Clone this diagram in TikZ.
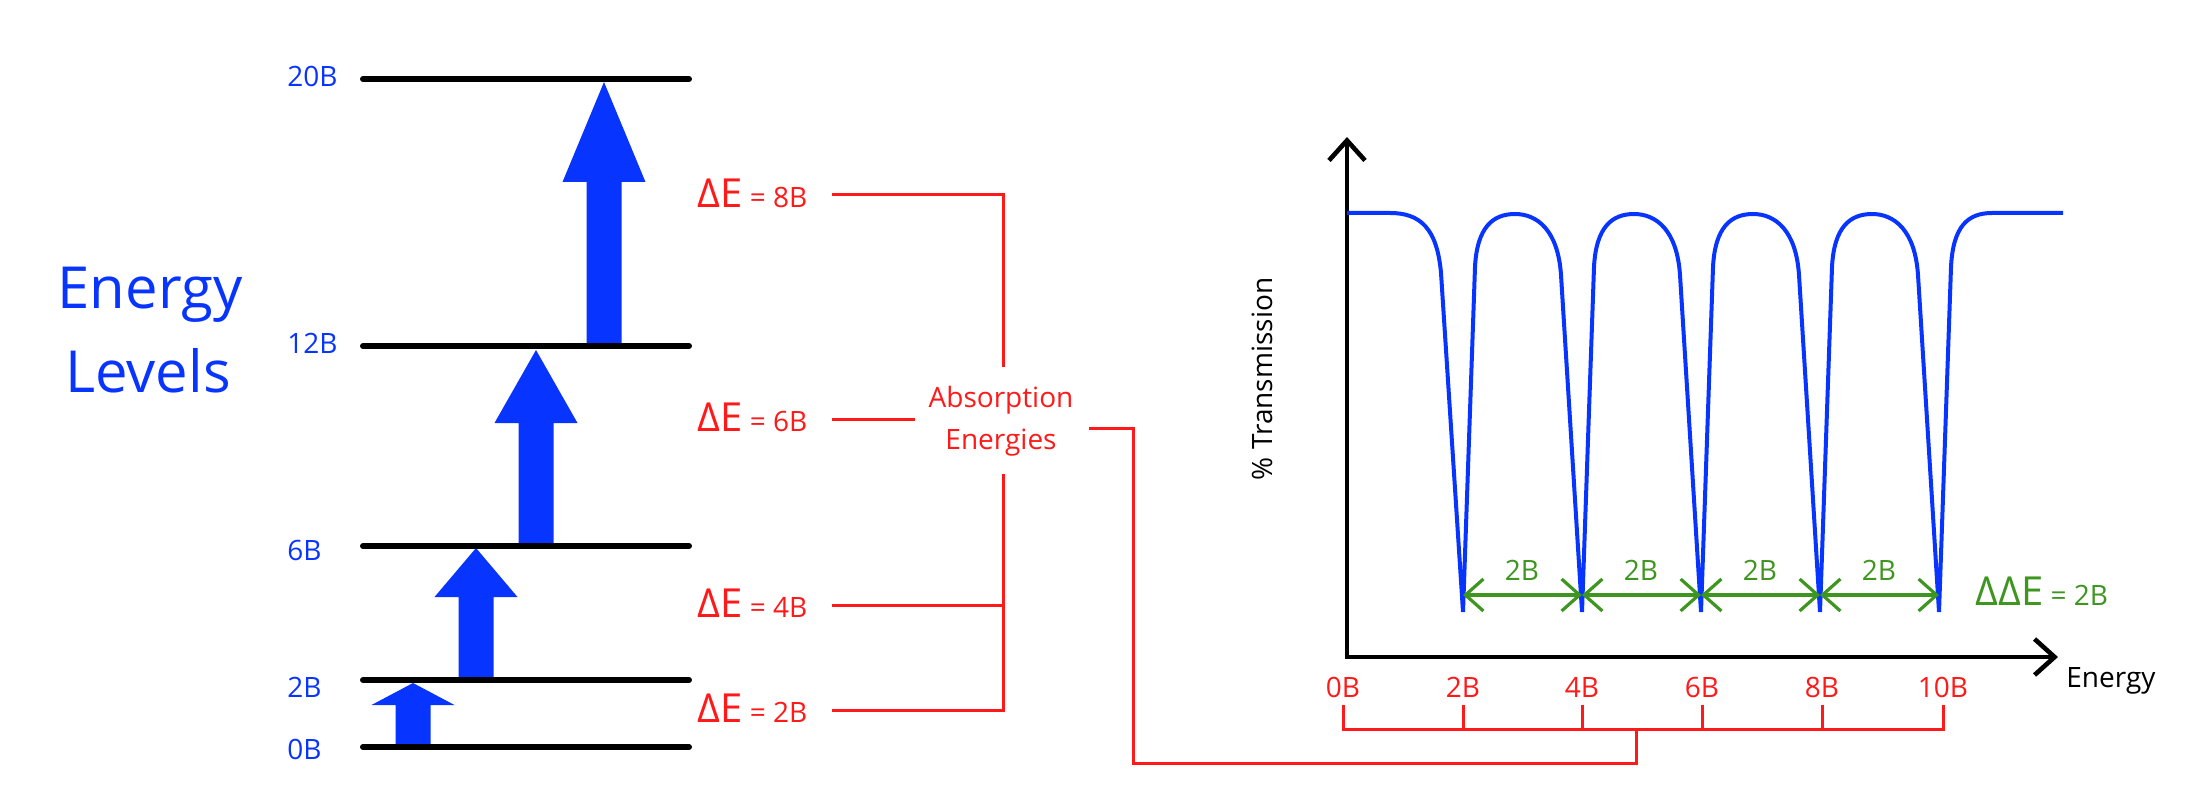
\documentclass[tikz,border=0pt]{standalone}
\usepackage{fontspec}
\setmainfont{Open Sans}
\usetikzlibrary{arrows.meta}
\definecolor{eblue}{RGB}{8,52,255}
\definecolor{ered}{RGB}{255,25,25}
\definecolor{egreen}{RGB}{62,150,32}
\newcommand\BigTxt[1]{{\fontsize{20}{24}\selectfont #1}}
\begin{document}
\begin{tikzpicture}[x=0.5pt,y=-0.5pt,
  lvl/.style={line width=3pt,line cap=round},
  lvllab/.style={anchor=base west,inner sep=0pt,text=eblue,font=\fontsize{14}{16}\selectfont},
  titlelab/.style={anchor=base,inner sep=0pt,text=eblue,font=\fontsize{29}{34}\selectfont},
  barrow/.style={fill=eblue},
  redline/.style={draw=ered,line width=1.5pt},
  relab/.style={anchor=base west,inner sep=0pt,text=ered,font=\fontsize{14}{16}\selectfont},
  redsmall/.style={anchor=base,inner sep=0pt,text=ered,font=\fontsize{14}{16}\selectfont},
  axisline/.style={line width=2.3pt,{Straight Barb[length=10pt,width=18pt]}-{Straight Barb[length=10pt,width=18pt]}},
  spec/.style={draw=eblue,line width=2pt},
  garrow/.style={draw=egreen,line width=1.6pt,{Straight Barb[length=9pt,width=16pt]}-{Straight Barb[length=9pt,width=16pt]}},
  glab/.style={anchor=base,inner sep=0pt,text=egreen,font=\fontsize{14}{16}\selectfont},
  blacklab/.style={inner sep=0pt,text=black,font=\fontsize{14}{16}\selectfont},
]
\useasboundingbox (0,0) rectangle (2206,786);

% ---------- Energy level title ----------
\node[titlelab] (titleA) at (150,308) {Energy};
\node[titlelab] (titleB) at (148,392) {Levels};

% ---------- block arrows (drawn under the level lines) ----------
\foreach \cx/\bot/\hb/\ap [count=\i] in {413/747/705/683, 476/680/597/548, 536/546/423/350, 604/346/182/82}{
  \fill[barrow] (\cx-17.5,\bot) -- (\cx-17.5,\hb) -- (\cx-41.5,\hb) -- (\cx,\ap)
     -- (\cx+41.5,\hb) -- (\cx+17.5,\hb) -- (\cx+17.5,\bot) -- cycle;
}

% ---------- levels ----------
\foreach \y/\nm in {79/20B, 346/12B, 546/6B, 680/2B, 747/0B}{
  \coordinate (la\nm) at (363,\y);
  \coordinate (lb\nm) at (689,\y);
  \draw[lvl] (la\nm) -- (lb\nm);
}
\node[lvllab] (l20) at (287,87) {20B};
\node[lvllab] (l12) at (287,353) {12B};
\node[lvllab] (l6) at (287,560) {6B};
\node[lvllab] (l2) at (287,697) {2B};
\node[lvllab] (l0) at (287,759) {0B};

% ---------- Delta E labels ----------
\node[relab] (de8) at (697,208) {\BigTxt{ΔE} = 8B};
\node[relab] (de6) at (697,431) {\BigTxt{ΔE} = 6B};
\node[relab] (de4) at (697,617) {\BigTxt{ΔE} = 4B};
\node[relab] (de2) at (697,722) {\BigTxt{ΔE} = 2B};

\node[redsmall] (absA) at (1001,408) {Absorption};
\node[redsmall] (absB) at (1001,449) {Energies};

\coordinate (r8) at (832,195);
\coordinate (r6) at (832,419);
\coordinate (r4) at (832,605);
\coordinate (r2) at (832,710);
\coordinate (v8) at (1003,195);
\coordinate (vtopend) at (1003,367);
\coordinate (r6end) at (915,419);
\coordinate (vbotstart) at (1003,474);
\coordinate (v4) at (1003,605);
\coordinate (v2) at (1003,710);
\draw[redline] (r8) -- (v8) -- (vtopend);
\draw[redline] (r6) -- (r6end);
\draw[redline] (vbotstart) -- (v2) -- (r2);
\draw[redline] (r4) -- (v4);

% ---------- spectrum axes ----------
\coordinate (O) at (1347,657);
\coordinate (Ytop) at (1347,137);
\coordinate (Xend) at (2058,657);
\draw[axisline] (Ytop) -- (O) -- (Xend);
\node[blacklab,anchor=base west] (xlab) at (2066,687) {Energy};
\node[blacklab,rotate=90] (ylab) at (1262,379) {\% Transmission};

% ---------- spectrum ----------
\draw[spec] (1347,213) -- (1390,213) .. controls (1420,213) and (1437,228) .. (1441,273) -- (1463,612)
  \foreach \k in {0,1,2,3}{
    -- ({1463+119*\k+12},267) .. controls +(2,-40) and +(-22,0) .. ({1463+119*\k+52},214)
       .. controls +(22,0) and +(-3,-45) .. ({1463+119*\k+98},275) -- ({1463+119*(\k+1)},612)
  }
  -- (1951,267) .. controls (1953,226) and (1968,213) .. (1992,213) -- (2063,213);

% ---------- green spacing arrows ----------
\foreach \x [count=\i] in {1463,1582,1701,1820,1939}{
  \coordinate (g\i) at (\x,595);
}
\draw[garrow] (g1) -- (g2);
\draw[garrow] (g2) -- (g3);
\draw[garrow] (g3) -- (g4);
\draw[garrow] (g4) -- (g5);
\node[glab] (gl1) at (1522,580) {2B};
\node[glab] (gl2) at (1641,580) {2B};
\node[glab] (gl3) at (1760,580) {2B};
\node[glab] (gl4) at (1879,580) {2B};
\node[glab,anchor=base west] (dde) at (1975,605) {\BigTxt{ΔΔE} = 2B};

% ---------- red tick bracket ----------
\foreach \x/\t [count=\i] in {1343/0B,1463/2B,1582/4B,1702/6B,1822/8B,1943/10B}{
  \coordinate (tt\i) at (\x,705);
  \coordinate (tb\i) at (\x,729);
  \node[redsmall] (tl\i) at (\x,697) {\t};
}
\draw[redline] (tt1) -- (tb1) -- (tb6) -- (tt6);
\foreach \i in {2,3,4,5}{ \draw[redline] (tt\i) -- (tb\i); }
\coordinate (c1) at (1089,428);
\coordinate (c2) at (1133,428);
\coordinate (c3) at (1133,763);
\coordinate (c4) at (1636,763);
\coordinate (c5) at (1636,729);
\draw[redline] (c1) -- (c2) -- (c3) -- (c4) -- (c5);
\end{tikzpicture}
\end{document}
